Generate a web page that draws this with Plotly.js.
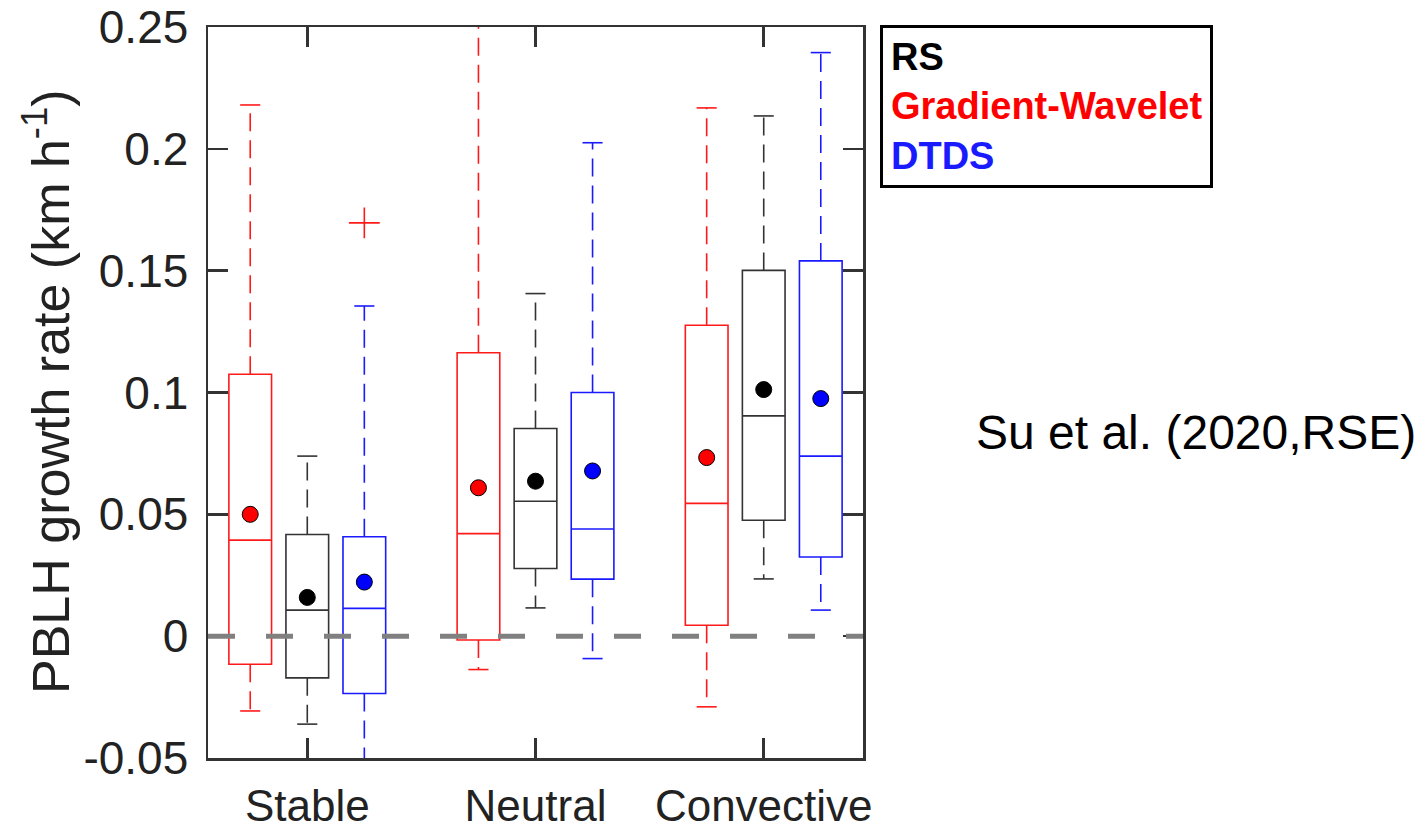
<!DOCTYPE html>
<html>
<head>
<meta charset="utf-8">
<script src="https://cdn.plot.ly/plotly-3.0.1.min.js"></script>
<style>
  html, body { margin: 0; padding: 0; background: #ffffff; }
  #chart { width: 1423px; height: 829px; }
</style>
</head>
<body>
<div id="chart"></div>
<script>
// ---------------- data ----------------
const categories = ['Stable', 'Neutral', 'Convective'];
const yTickVals = [-0.05, 0, 0.05, 0.1, 0.15, 0.2, 0.25];
const yTickText = ['-0.05', '0', '0.05', '0.1', '0.15', '0.2', '0.25'];

// Gradient-Wavelet (red)
const gwUpper  = [0.218, 0.262, 0.2168];
const gwQ3     = [0.1075, 0.1163, 0.1276];
const gwMedian = [0.0394, 0.0421, 0.0545];
const gwMean   = [0.050, 0.0609, 0.0733];
const gwQ1     = [-0.0115, -0.0016, 0.0045];
const gwLower  = [-0.0307, -0.0137, -0.029];

// RS (black)
const rsUpper  = [0.0739, 0.1406, 0.2135];
const rsQ3     = [0.0417, 0.0852, 0.1501];
const rsMedian = [0.0107, 0.0554, 0.0904];
const rsMean   = [0.0159, 0.0636, 0.1012];
const rsQ1     = [-0.0171, 0.0278, 0.0476];
const rsLower  = [-0.0361, 0.0116, 0.0235];

// DTDS (blue)
const dtUpper  = [0.1355, 0.2025, 0.2395];
const dtQ3     = [0.0408, 0.1000, 0.154];
const dtMedian = [0.0114, 0.0440, 0.0739];
const dtMean   = [0.0222, 0.0678, 0.0975];
const dtQ1     = [-0.0235, 0.0234, 0.0325];
const dtLower  = [-0.056, -0.0092, 0.0107];
const dtOutlierCategory = ['Stable'];
const dtOutlierValue    = [0.1696];

const referenceLevel = 0;

// ---------------- styling / layout helpers ----------------
const RED = '#ff1a1a', BLACK = '#333333', BLUE = '#1a1aff';
const OFFSET = 0.25, BOXW = 0.187, CAPHALF = 0.044;
const catPos = categories.map((c, i) => i + 1);

const series = [
  {name: 'Gradient-Wavelet', off: -OFFSET, color: RED,   dot: '#ff0000', up: gwUpper, q3: gwQ3, med: gwMedian, mean: gwMean, q1: gwQ1, lo: gwLower},
  {name: 'RS',               off: 0,       color: BLACK, dot: '#000000', up: rsUpper, q3: rsQ3, med: rsMedian, mean: rsMean, q1: rsQ1, lo: rsLower},
  {name: 'DTDS',             off: OFFSET,  color: BLUE,  dot: '#0000ff', up: dtUpper, q3: dtQ3, med: dtMedian, mean: dtMean, q1: dtQ1, lo: dtLower}
];

const traces = [];
series.forEach(s => {
  const xs = catPos.map(p => p + s.off);
  // box body
  traces.push({
    type: 'box', name: s.name, x: xs,
    q1: s.q1, median: s.med, q3: s.q3,
    lowerfence: s.q1, upperfence: s.q3,
    width: BOXW, whiskerwidth: 0, boxpoints: false,
    line: {color: s.color, width: 1.6},
    fillcolor: 'rgba(0,0,0,0)',
    showlegend: false, hoverinfo: 'skip'
  });
  // dashed whiskers
  const wx = [], wy = [];
  xs.forEach((x, i) => {
    wx.push(x, x, null, x, x, null);
    wy.push(s.q3[i], s.up[i], null, s.q1[i], s.lo[i], null);
  });
  traces.push({
    type: 'scatter', mode: 'lines', x: wx, y: wy,
    line: {color: s.color, width: 1.6, dash: '18px,9px'},
    showlegend: false, hoverinfo: 'skip'
  });
  // caps
  const cx = [], cy = [];
  xs.forEach((x, i) => {
    cx.push(x - CAPHALF, x + CAPHALF, null, x - CAPHALF, x + CAPHALF, null);
    cy.push(s.up[i], s.up[i], null, s.lo[i], s.lo[i], null);
  });
  traces.push({
    type: 'scatter', mode: 'lines', x: cx, y: cy,
    line: {color: s.color, width: 1.6},
    showlegend: false, hoverinfo: 'skip'
  });
});

// outlier
traces.push({
  type: 'scatter', mode: 'markers',
  x: dtOutlierCategory.map(c => categories.indexOf(c) + 1 + OFFSET),
  y: dtOutlierValue,
  marker: {symbol: 'cross-thin', size: 22, line: {color: RED, width: 1.6}},
  showlegend: false, hoverinfo: 'skip'
});

// mean dots
series.forEach(s => {
  traces.push({
    type: 'scatter', mode: 'markers',
    x: catPos.map(p => p + s.off), y: s.mean,
    marker: {symbol: 'circle', size: 16, color: s.dot, line: {color: '#000000', width: 1}},
    showlegend: false, hoverinfo: 'skip'
  });
});

const FONT = 'Liberation Sans, Arial, sans-serif';
const L = 208, R = 863, T = 27, B = 758;
const W = 1423, H = 829;
const pw = R - L, ph = B - T;
const px = x => (x - L) / pw;
const py = y => (B - y) / ph;

const layout = {
  width: W, height: H,
  margin: {l: L, r: W - R, t: T, b: H - B, pad: 0},
  paper_bgcolor: '#ffffff', plot_bgcolor: '#ffffff',
  showlegend: false,
  boxmode: 'overlay',
  font: {family: FONT, color: '#222222'},
  xaxis: {
    range: [0.565, 3.435],
    tickvals: catPos, ticktext: categories,
    ticks: 'inside', ticklen: 20, tickwidth: 2.5, tickcolor: BLACK,
    showline: true, linecolor: BLACK, linewidth: 2.5, mirror: 'ticks',
    showgrid: false, zeroline: false,
    tickfont: {size: 44, family: FONT, color: '#222222'},
    ticklabelstandoff: 8
  },
  yaxis: {
    range: [-0.05, 0.25],
    tickvals: yTickVals, ticktext: yTickText,
    ticks: 'inside', ticklen: 20, tickwidth: 2.5, tickcolor: BLACK,
    showline: true, linecolor: BLACK, linewidth: 2.5, mirror: 'ticks',
    showgrid: false, zeroline: false,
    tickfont: {size: 46, family: FONT, color: '#222222'},
    ticklabelstandoff: 8
  },
  shapes: [{
    type: 'line', xref: 'paper', yref: 'y',
    x0: 0, x1: 1, y0: referenceLevel, y1: referenceLevel,
    line: {color: '#808080', width: 5, dash: '27px,31px'},
    layer: 'above'
  }],
  annotations: [
    {
      xref: 'paper', yref: 'paper', x: px(47), y: py(392),
      xanchor: 'center', yanchor: 'middle', textangle: -90,
      text: 'PBLH growth rate (km h<sup>-1</sup>)',
      showarrow: false,
      font: {size: 52, family: FONT, color: '#222222'}
    },
    {
      xref: 'paper', yref: 'paper', x: px(880), y: py(25),
      xanchor: 'left', yanchor: 'top', align: 'left',
      text: '<b>RS</b><br><span style="color:#ff0000"><b>Gradient-Wavelet</b></span><br><span style="color:#1a1aff"><b>DTDS</b></span>',
      showarrow: false,
      bordercolor: '#000000', borderwidth: 3, borderpad: 8, bgcolor: '#ffffff',
      font: {size: 38, family: FONT, color: '#000000'}
    },
    {
      xref: 'paper', yref: 'paper', x: px(974), y: py(432),
      xanchor: 'left', yanchor: 'middle',
      text: 'Su et al. (2020,RSE)',
      showarrow: false,
      font: {size: 48, family: FONT, color: '#000000'}
    }
  ]
};

Plotly.newPlot('chart', traces, layout, {displayModeBar: false, staticPlot: true});
</script>
</body>
</html>
